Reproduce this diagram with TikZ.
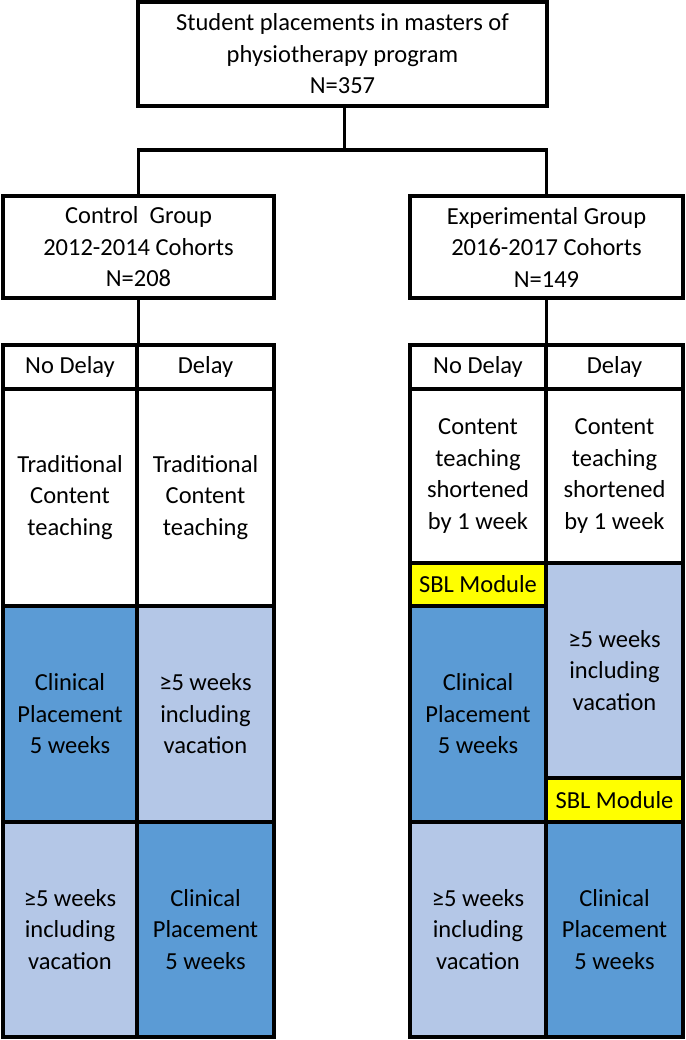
\documentclass[tikz,border=0pt]{standalone}
\usepackage{fontspec}
\setmainfont{Carlito}
\usetikzlibrary{calc}
\definecolor{dblue}{RGB}{91,155,213}
\definecolor{lblue}{RGB}{180,199,231}
\definecolor{sblyellow}{RGB}{255,255,0}
\begin{document}
\begin{tikzpicture}[x=1pt,y=-1pt,
  box/.style={draw=black, line width=3.5pt, inner sep=0pt, outer sep=0pt,
    align=center, anchor=north west, fill=white,
    font=\fontsize{24.5}{31.5}\selectfont},
  clin/.style={box, fill=dblue},
  vac/.style={box, fill=lblue},
  sbl/.style={box, fill=sblyellow},
  conn/.style={draw=black, line width=3.5pt}]
\useasboundingbox (0,0) rectangle (685,1040);

% top and group boxes
\node[box, minimum width=409pt, minimum height=104pt] (top) at (138,2)
  {Student placements in masters of\\physiotherapy program\\N=357};
\node[box, minimum width=271pt, minimum height=102pt] (ctrl) at (3,196)
  {Control\ \ Group\\2012-2014 Cohorts\\N=208};
\node[box, minimum width=273pt, minimum height=102pt] (exp) at (410,196)
  {Experimental Group\\2016-2017 Cohorts\\N=149};

% control table
\node[box, minimum width=134pt, minimum height=44pt] (ncH) at (3,345) {No Delay};
\node[box, minimum width=137pt, minimum height=44pt] (dcH) at (137,345) {Delay};
\node[box, minimum width=134pt, minimum height=217pt] (nc1) at (3,389) {Traditional\\Content\\teaching};
\node[box, minimum width=137pt, minimum height=217pt] (dc1) at (137,389) {Traditional\\Content\\teaching};
\node[clin, minimum width=134pt, minimum height=216pt] (nc2) at (3,606) {Clinical\\Placement\\5 weeks};
\node[vac, minimum width=137pt, minimum height=216pt] (dc2) at (137,606) {≥5 weeks\\including\\vacation};
\node[vac, minimum width=134pt, minimum height=215pt] (nc3) at (3,822) {≥5 weeks\\including\\vacation};
\node[clin, minimum width=137pt, minimum height=215pt] (dc3) at (137,822) {Clinical\\Placement\\5 weeks};

% experimental table
\node[box, minimum width=136pt, minimum height=44pt] (neH) at (410,345) {No Delay};
\node[box, minimum width=137pt, minimum height=44pt] (deH) at (546,345) {Delay};
\node[box, minimum width=136pt, minimum height=174pt] (ne1) at (410,389) {Content\\teaching\\shortened\\by 1 week};
\node[box, minimum width=137pt, minimum height=174pt] (de1) at (546,389) {Content\\teaching\\shortened\\by 1 week};
\node[sbl, minimum width=136pt, minimum height=43pt] (nesbl) at (410,563) {SBL Module};
\node[clin, minimum width=136pt, minimum height=216pt] (ne2) at (410,606) {Clinical\\Placement\\5 weeks};
\node[vac, minimum width=136pt, minimum height=215pt] (ne3) at (410,822) {≥5 weeks\\including\\vacation};
\node[vac, minimum width=137pt, minimum height=215pt] (de2) at (546,563) {≥5 weeks\\including\\vacation};
\node[sbl, minimum width=137pt, minimum height=44pt] (desbl) at (546,778) {SBL Module};
\node[clin, minimum width=137pt, minimum height=215pt] (de3) at (546,822) {Clinical\\Placement\\5 weeks};

% connectors
\coordinate (split) at ($(top.south)+(2,44)$);
\draw[conn] (split |- top.south) -- (split);
\draw[conn] (ctrl.north) |- (split) -| (exp.north);
\draw[conn] (ctrl.south) -- (ctrl.south |- ncH.north);
\draw[conn] (exp.south) -- (exp.south |- neH.north);
\end{tikzpicture}
\end{document}
